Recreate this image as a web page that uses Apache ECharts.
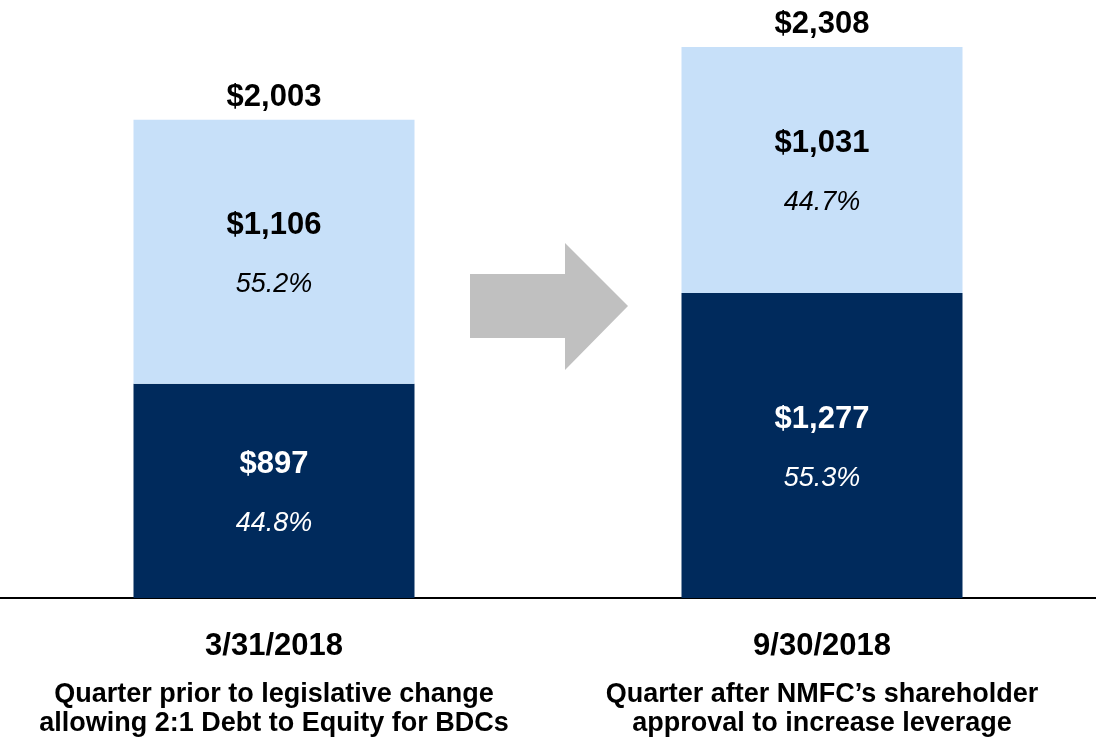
<!DOCTYPE html>
<html>
<head>
<meta charset="utf-8">
<script src="https://cdn.jsdelivr.net/npm/echarts@6/dist/echarts.min.js"></script>
<style>
  html, body { margin: 0; padding: 0; background: #fff; }
  #main { width: 1096px; height: 743px; }
</style>
</head>
<body>
<div id="main"></div>
<script>
var dates = ['3/31/2018', '9/30/2018'];
var notes = [
  ['Quarter prior to legislative change', 'allowing 2:1 Debt to Equity for BDCs'],
  ['Quarter after NMFC\u2019s shareholder', 'approval to increase leverage']
];
var lowerVals = [897, 1277];
var lowerPct = ['44.8%', '55.3%'];
var upperVals = [1106, 1031];
var upperPct = ['55.2%', '44.7%'];
var totals = [2003, 2308];

var chart = echarts.init(document.getElementById('main'));

function money(v) {
  return '$' + v.toLocaleString('en-US');
}

var font = 'Arial, "Liberation Sans", sans-serif';

function segLabel(color, pcts) {
  return {
    show: true,
    position: 'inside',
    offset: [0, 3],
    fontFamily: font,
    formatter: function (p) {
      return '{a|' + money(p.value) + '}\n{b|' + pcts[p.dataIndex] + '}';
    },
    rich: {
      a: { fontSize: 31, fontWeight: 'bold', color: color, lineHeight: 59, fontFamily: font },
      b: { fontSize: 27, fontStyle: 'italic', color: color, lineHeight: 59, fontFamily: font }
    }
  };
}

var option = {
  backgroundColor: '#fff',
  animation: false,
  grid: { left: 0, right: 0, top: 25, bottom: 145 },
  xAxis: {
    type: 'category',
    data: dates,
    axisTick: { show: false },
    axisLine: { show: true, lineStyle: { color: '#000', width: 2 } },
    axisLabel: {
      margin: 15,
      interval: 0,
      fontFamily: font,
      formatter: function (v, i) {
        return '{d|' + v + '}\n{s|' + notes[i][0] + '}\n{s|' + notes[i][1] + '}';
      },
      rich: {
        d: { fontSize: 31, fontWeight: 'bold', color: '#000', lineHeight: 67, fontFamily: font },
        s: { fontSize: 27, fontWeight: 'bold', color: '#000', lineHeight: 29, fontFamily: font }
      }
    }
  },
  yAxis: {
    type: 'value',
    min: 0,
    max: 2400,
    show: false,
    splitLine: { show: false }
  },
  series: [
    {
      name: 'Lower',
      type: 'bar',
      stack: 'cap',
      barWidth: 281,
      data: lowerVals,
      itemStyle: { color: '#002a5c' },
      label: segLabel('#fff', lowerPct)
    },
    {
      name: 'Upper',
      type: 'bar',
      stack: 'cap',
      barWidth: 281,
      data: upperVals,
      itemStyle: { color: '#c7e0f9' },
      label: segLabel('#000', upperPct)
    },
    {
      name: 'Total',
      type: 'bar',
      barWidth: 281,
      barGap: '-100%',
      z: 0,
      data: totals,
      itemStyle: { color: 'rgba(0,0,0,0)' },
      label: {
        show: true,
        position: 'top',
        distance: 7,
        fontFamily: font,
        fontSize: 31,
        fontWeight: 'bold',
        color: '#000',
        formatter: function (p) { return money(p.value); }
      }
    }
  ],
  graphic: [
    {
      type: 'polygon',
      shape: {
        points: [[470, 274], [565, 274], [565, 243], [628, 306], [565, 370], [565, 338], [470, 338]]
      },
      style: { fill: '#c0c0c0' }
    }
  ]
};

chart.setOption(option);
</script>
</body>
</html>
